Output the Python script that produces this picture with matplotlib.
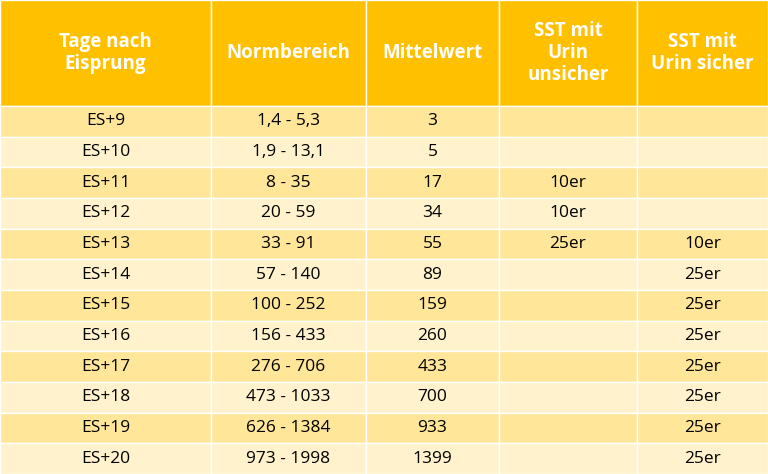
import matplotlib
matplotlib.use("Agg")
import matplotlib.pyplot as plt
from matplotlib.patches import Rectangle

headers = ["Tage nach\nEisprung", "Normbereich", "Mittelwert", "SST mit\nUrin\nunsicher", "SST mit\nUrin sicher"]
days = ["ES+9", "ES+10", "ES+11", "ES+12", "ES+13", "ES+14", "ES+15", "ES+16", "ES+17", "ES+18", "ES+19", "ES+20"]
ranges = ["1,4 - 5,3", "1,9 - 13,1", "8 - 35", "20 - 59", "33 - 91", "57 - 140", "100 - 252",
          "156 - 433", "276 - 706", "473 - 1033", "626 - 1384", "973 - 1998"]
means = ["3", "5", "17", "34", "55", "89", "159", "260", "433", "700", "933", "1399"]
unsure = ["", "", "10er", "10er", "25er", "", "", "", "", "", "", ""]
sure = ["", "", "", "", "10er", "25er", "25er", "25er", "25er", "25er", "25er", "25er"]

W, H = 768, 474
col_edges = [0, 211, 366, 499, 637, 768]
header_h = 106
row_h = (H - header_h) / len(days)

fig = plt.figure(figsize=(7.68, 4.74), dpi=100)
ax = fig.add_axes([0, 0, 1, 1])
ax.set_xlim(0, W)
ax.set_ylim(H, 0)
ax.axis("off")
font = "Open Sans"

for c in range(5):
    x0, x1 = col_edges[c], col_edges[c + 1]
    ax.add_patch(Rectangle((x0, 0), x1 - x0, header_h, facecolor="#FFC000", edgecolor="white", lw=1))
    ax.text((x0 + x1) / 2, header_h / 2, headers[c], ha="center", va="center", color="white",
            fontsize=13.5, fontweight="bold", family=font, linespacing=1.15)

cols = [days, ranges, means, unsure, sure]
for r in range(len(days)):
    y0 = header_h + r * row_h
    color = "#FFE699" if r % 2 == 0 else "#FFF2CC"
    for c in range(5):
        x0, x1 = col_edges[c], col_edges[c + 1]
        ax.add_patch(Rectangle((x0, y0), x1 - x0, row_h, facecolor=color, edgecolor="white", lw=1))
        ax.text((x0 + x1) / 2, y0 + row_h / 2, cols[c][r], ha="center", va="center",
                color="black", fontsize=12.5, family=font)

fig.savefig("out.png", dpi=100)
